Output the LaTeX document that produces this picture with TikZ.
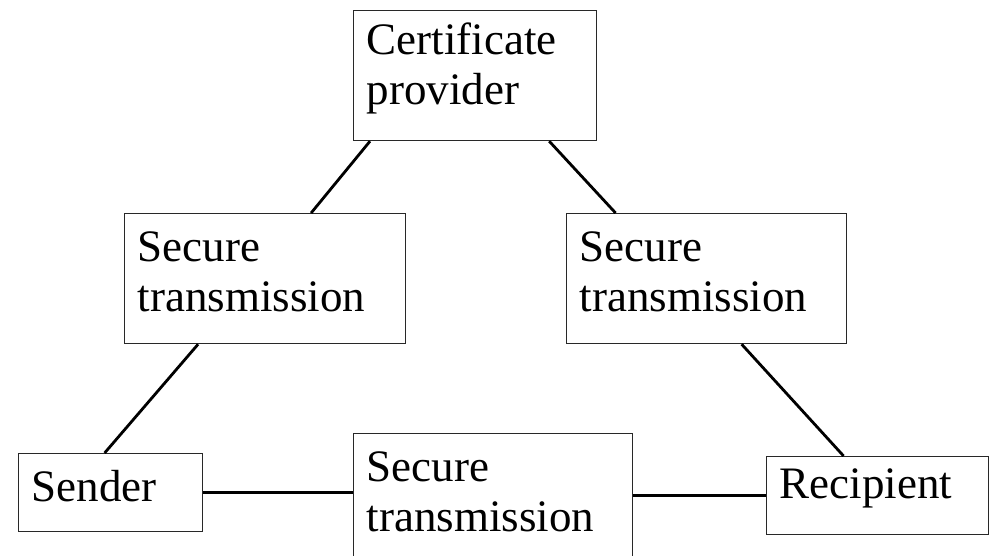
\documentclass[tikz,border=0pt]{standalone}
\usepackage{fontspec}
\setmainfont{Liberation Serif}
\usepackage{tikz}
\usetikzlibrary{positioning,calc}
\definecolor{boxline}{RGB}{40,40,40}
\tikzset{
  blk/.style={draw=boxline, line width=1.2pt, fill=white, anchor=north west,
              align=left, inner xsep=13pt, inner ysep=0pt,
              font=\fontsize{45}{50}\selectfont,
              execute at end node={\vspace{14pt}}},
  link/.style={line width=2.8pt, black}
}
\begin{document}
\begin{tikzpicture}[x=1pt, y=-1pt]
\useasboundingbox (0,0) rectangle (993,555);
\node (cert) [blk, text width=217pt, minimum height=130pt] at (353,10) {Certificate\\provider};
\node (lst) [blk, text width=255pt, minimum height=130pt] at (124,213) {Secure\\transmission};
\node (rst) [blk, text width=254pt, minimum height=130pt] at (566,213) {Secure\\transmission};
\node (snd) [blk, text width=158pt, minimum height=78pt] at (18,453) {Sender};
\node (mid) [blk, text width=253pt, minimum height=130pt] at (353,433) {Secure\\transmission};
\node (rcp) [blk, text width=196pt, minimum height=78pt] at (766,456) {Recipient};
% links between the parties
\draw[link] ([xshift=17pt]cert.south west) -- ([xshift=46pt]lst.north);
\draw[link] ([xshift=-48pt]cert.south east) -- ([xshift=-91pt]rst.north);
\draw[link] ([xshift=-67pt]lst.south) -- ([xshift=-6pt]snd.north);
\draw[link] ([xshift=35pt]rst.south) -- ([xshift=-34pt]rcp.north);
\draw[link] (snd.east) -- (snd.east -| mid.west);
\draw[link] (rcp.west) -- (rcp.west -| mid.east);
\end{tikzpicture}
\end{document}
